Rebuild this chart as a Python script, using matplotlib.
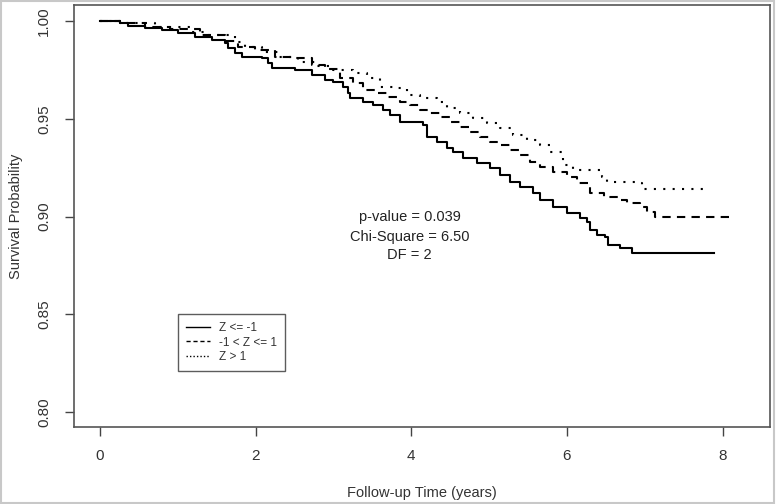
import matplotlib
matplotlib.use("Agg")
import matplotlib.pyplot as plt
from matplotlib.lines import Line2D
from matplotlib.patches import Rectangle

plt.rcParams["font.family"] = ["Liberation Sans", "DejaVu Sans"]

# ── Kaplan-Meier step points (years, survival) ───────────────────────────────
t_low = [0, 0.22, 0.26, 0.36, 0.58, 0.80, 1.00, 1.22, 1.44, 1.61, 1.65, 1.74,
         1.83, 2.08, 2.16, 2.21, 2.51, 2.72, 2.89, 2.99, 3.12, 3.19, 3.21, 3.38,
         3.51, 3.64, 3.73, 3.86, 4.15, 4.20, 4.33, 4.46, 4.54, 4.67, 4.85, 5.01,
         5.14, 5.27, 5.40, 5.57, 5.66, 5.82, 6.00, 6.17, 6.26, 6.30, 6.39, 6.49,
         6.53, 6.68, 6.84, 7.89]
s_low = [1.0000, 1.0000, 0.9990, 0.9974, 0.9964, 0.9954, 0.9939, 0.9918, 0.9903,
         0.9887, 0.9862, 0.9836, 0.9816, 0.9811, 0.9785, 0.9759, 0.9749, 0.9724,
         0.9698, 0.9688, 0.9662, 0.9631, 0.9606, 0.9585, 0.9570, 0.9544, 0.9519,
         0.9483, 0.9467, 0.9406, 0.9380, 0.9350, 0.9329, 0.9299, 0.9273, 0.9247,
         0.9212, 0.9176, 0.9150, 0.9119, 0.9084, 0.9048, 0.9017, 0.8991, 0.8971,
         0.8930, 0.8904, 0.8894, 0.8853, 0.8838, 0.8812, 0.8812]

t_mid = [0, 0.22, 0.26, 0.58, 0.90, 1.29, 1.61, 1.77, 1.99, 2.25, 2.51, 2.72,
         2.89, 3.08, 3.25, 3.38, 3.56, 3.69, 3.86, 3.98, 4.11, 4.24, 4.37, 4.50,
         4.63, 4.76, 4.88, 5.01, 5.14, 5.27, 5.40, 5.53, 5.66, 5.82, 6.00, 6.13,
         6.30, 6.47, 6.65, 6.77, 6.94, 7.03, 7.13, 8.14]
s_mid = [1.0000, 1.0000, 0.9990, 0.9969, 0.9959, 0.9928, 0.9898, 0.9867, 0.9852,
         0.9816, 0.9811, 0.9775, 0.9754, 0.9708, 0.9683, 0.9647, 0.9631, 0.9611,
         0.9585, 0.9570, 0.9544, 0.9529, 0.9508, 0.9483, 0.9457, 0.9432, 0.9406,
         0.9380, 0.9365, 0.9340, 0.9314, 0.9278, 0.9253, 0.9227, 0.9201, 0.9171,
         0.9119, 0.9099, 0.9084, 0.9068, 0.9048, 0.9022, 0.8996, 0.8996]

t_high = [0, 0.26, 0.32, 0.71, 1.18, 1.35, 1.74, 1.86, 2.08, 2.29, 2.54, 2.76,
          2.99, 3.25, 3.43, 3.60, 3.77, 3.95, 4.11, 4.33, 4.46, 4.63, 4.79, 4.97,
          5.14, 5.31, 5.49, 5.66, 5.78, 5.95, 6.08, 6.39, 6.45, 6.52, 6.94, 6.97,
          7.84]
s_high = [1.0000, 1.0000, 0.9990, 0.9969, 0.9944, 0.9928, 0.9892, 0.9867, 0.9841,
          0.9816, 0.9790, 0.9770, 0.9749, 0.9734, 0.9708, 0.9662, 0.9657, 0.9621,
          0.9606, 0.9585, 0.9555, 0.9529, 0.9503, 0.9478, 0.9452, 0.9416, 0.9391,
          0.9365, 0.9329, 0.9263, 0.9237, 0.9237, 0.9201, 0.9176, 0.9170, 0.9140,
          0.9140]

group_labels = ["Z <= -1", "-1 < Z <= 1", "Z > 1"]
stats_lines = ["p-value = 0.039", "Chi-Square = 6.50", "DF = 2"]
x_ticks = [0, 2, 4, 6, 8]
y_ticks = [0.80, 0.85, 0.90, 0.95, 1.00]

# ── Figure ────────────────────────────────────────────────────────────────────
fig = plt.figure(figsize=(7.76, 5.04), dpi=100)
fig.patches.append(Rectangle((0.001, 0.001), 0.997, 0.997, transform=fig.transFigure,
                             fill=False, edgecolor="#c8c8c8", linewidth=1.5))
ax = fig.add_axes([0.0954, 0.1528, 0.8969, 0.8372])

styles = ["-", (0, (4, 3)), (0, (1, 3.5))]
for tt, ss, ls in zip([t_low, t_mid, t_high], [s_low, s_mid, s_high], styles):
    ax.plot(tt, ss, drawstyle="steps-post", color="black", lw=1.5, linestyle=ls)

for txt, yv in zip(stats_lines, [0.8997, 0.8894, 0.8802]):
    ax.text(3.98, yv, txt, ha="center", va="center", fontsize=10.5, color="#222222")

ax.set_xlim(-0.335, 8.61)
ax.set_ylim(0.7923, 1.0082)
ax.set_xticks(x_ticks)
ax.set_xticklabels([str(v) for v in x_ticks])
ax.set_yticks(y_ticks)
ax.set_yticklabels([f"{v:.2f}" for v in y_ticks], rotation=90, va="center")

ax.tick_params(axis="both", direction="out", length=6.5, width=1.0,
               color="#444444", labelcolor="#333333", labelsize=11)
ax.tick_params(axis="x", pad=9)
ax.tick_params(axis="y", pad=10)
for sp in ax.spines.values():
    sp.set_color("#555555")
    sp.set_linewidth(1.2)

ax.set_xlabel("Follow-up Time (years)", fontsize=10.5, color="#333333", labelpad=17)
ax.set_ylabel("Survival Probability", fontsize=10.5, color="#333333", labelpad=10)

# legend keys drawn thinner, as in the original
handles = [Line2D([], [], color="black", lw=1.0, linestyle=ls)
           for ls in ["-", (0, (3, 2)), (0, (1, 1.5))]]
leg = ax.legend(handles, group_labels, loc="upper left",
                bbox_to_anchor=(0.149, 0.268), fontsize=8.5,
                frameon=True, fancybox=False, edgecolor="#333333",
                handlelength=2.0, handletextpad=0.8, labelspacing=0.2,
                borderpad=0.7, borderaxespad=0)
leg.get_frame().set_linewidth(1.0)
for t in leg.get_texts():
    t.set_color("#333333")

fig.savefig("out.png", dpi=100)
